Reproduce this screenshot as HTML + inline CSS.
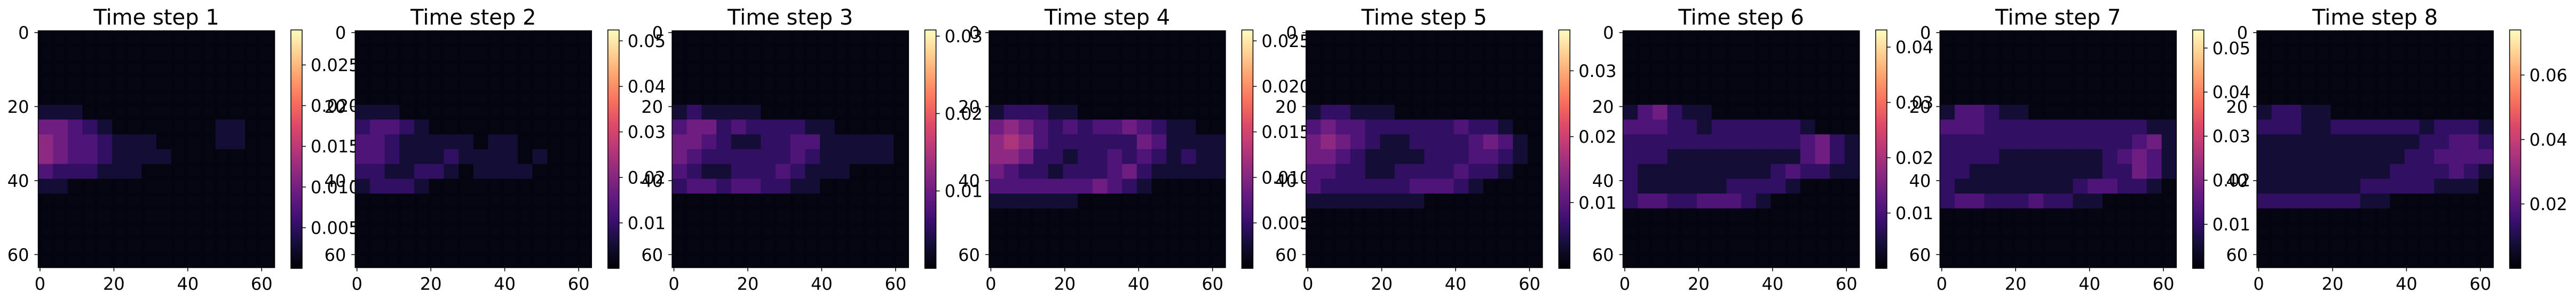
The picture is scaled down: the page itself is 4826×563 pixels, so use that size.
<!DOCTYPE html>
<html><head><meta charset="utf-8">
<style>
html,body{margin:0;padding:0;background:#fff;}
svg{display:block;}
text{font-family:"DejaVu Sans","Liberation Sans",sans-serif;fill:#000;}
</style></head>
<body>
<svg id="fig" width="4826" height="563" viewBox="0 0 4826 563" xmlns="http://www.w3.org/2000/svg"></svg>
<script>
// Panel titles
const titles = ["Time step 1","Time step 2","Time step 3","Time step 4","Time step 5","Time step 6","Time step 7","Time step 8"];
// Colour range maxima per panel
const vmax = [0.0293,0.0524,0.0308,0.0262,0.0362,0.0431,0.0541,0.074];
const vmin = [0,0,0,0,0,0,0,0];
// Colourbar ticks per panel
const cbTicks = [
  [0.005,0.010,0.015,0.020,0.025],
  [0.01,0.02,0.03,0.04,0.05],
  [0.01,0.02,0.03],
  [0.005,0.010,0.015,0.020,0.025],
  [0.01,0.02,0.03],
  [0.01,0.02,0.03,0.04],
  [0.01,0.02,0.03,0.04,0.05],
  [0.02,0.04,0.06]
];
const cbTickLabels = [
  ["0.005","0.010","0.015","0.020","0.025"],
  ["0.01","0.02","0.03","0.04","0.05"],
  ["0.01","0.02","0.03"],
  ["0.005","0.010","0.015","0.020","0.025"],
  ["0.01","0.02","0.03"],
  ["0.01","0.02","0.03","0.04"],
  ["0.01","0.02","0.03","0.04","0.05"],
  ["0.02","0.04","0.06"]
];
const axisTicks = [0,20,40,60];
const axisTickLabels = ["0","20","40","60"];
// Coarse 16x16 block intensities (units of 0.075*vmax), rows top->bottom
const Z = "0000000000000000";
const grid1 = [Z,Z,Z,Z,Z,"1110000000000000","4432100000001100","5433211100001100","5433211110000000","3222111000000000","1100000000000000",Z,Z,Z,Z,Z];
const grid2 = [Z,Z,Z,Z,Z,"1110000000000000","2332100000000000","3321111101100000","3321112111101000","2211221011110000","1222100000000000",Z,Z,Z,Z,Z];
const grid3 = [Z,Z,Z,Z,Z,"1211110000000000","3442322221100000","4432112233111110","4322222232111110","3211222321110000","2332332211000000",Z,Z,Z,Z,Z];
const grid4 = [Z,Z,Z,Z,Z,"1222110000000000","4543232334321100","5653222222431111","5542212232321211","4322122234211111","3333333432100000","1111110000000000",Z,Z,Z,Z];
const grid5 = [Z,Z,Z,Z,Z,"1221110000000000","3433222222322100","4543211222234310","4432111122233210","3322112222322100","3222222333210000","1111111100000000",Z,Z,Z,Z];
const grid6 = [Z,Z,Z,Z,Z,"1342110000000000","3332212222221000","2222222222223421","2221111111113421","2111111111232211","2111111222210000","2332233321000000",Z,Z,Z,Z];
const grid7 = [Z,Z,Z,Z,Z,"1332110000000000","3332222222222211","2222222222222341","2222111111123431","2211111111122431","2111111112332210","2332223221100000",Z,Z,Z,Z];
const grid8 = [Z,Z,Z,Z,Z,"1221100000000000","2221122222212221","1111111111122332","1111111111223333","1111111112222321","1111111222221110","2222222110000000",Z,Z,Z,Z];
const grids = [grid1,grid2,grid3,grid4,grid5,grid6,grid7,grid8];

const NS = "http://www.w3.org/2000/svg";
const svg = document.getElementById('fig');
const magma = ["#000004","#140e36","#3b0f70","#641a80","#8c2981","#b73779","#de4968","#f7705c","#fe9f6d","#fecf92","#fcfdbf"];
function hex(h){return [parseInt(h.substr(1,2),16),parseInt(h.substr(3,2),16),parseInt(h.substr(5,2),16)];}
function cmap(t){
  t=Math.max(0,Math.min(1,t));
  const p=t*10, i=Math.min(9,Math.floor(p)), f=p-i;
  const a=hex(magma[i]), b=hex(magma[i+1]);
  return "rgb("+a.map((v,k)=>Math.round(v+(b[k]-v)*f)).join(",")+")";
}
function el(tag, attrs, parent){
  const e=document.createElementNS(NS,tag);
  for(const k in attrs) e.setAttribute(k,attrs[k]);
  (parent||svg).appendChild(e); return e;
}
const defs = el('defs',{});
const grad = el('linearGradient',{id:'magma',x1:'0',y1:'1',x2:'0',y2:'0'},defs);
magma.forEach((c,i)=>el('stop',{offset:(i/10),'stop-color':c},grad));

const pitch=593.8, axL0=71.5, axT=57.5, axS=443, cbOff=473.5, cbW=21, cbT=56, cbB=502;
for(let p=0;p<8;p++){
  const L=axL0+pitch*p;
  const g=el('g',{});
  
  
  const xs=v=>L+(v+0.5)*axS/64;
  const ys=v=>axT+(v+0.5)*axS/64;
  const hm=el('g',{},g);
  
  
  const rows=grids[p], nr=rows.length, nc=rows[0].length;
  const cw=axS/nc, ch=axS/nr;
  for(let r=0;r<nr;r++)for(let c=0;c<nc;c++){
    const d=+rows[r][c];
    const val=(0.025+d*0.075)*vmax[p];
    const cell=el('rect',{x:L+c*cw,y:axT+r*ch,width:cw+0.6,height:ch+0.6,fill:cmap((val-vmin[p])/(vmax[p]-vmin[p]))},hm);
    
    
  }
  el('rect',{x:L,y:axT,width:axS,height:axS,fill:'none',stroke:'#000','stroke-width':1.5},g);
  const t=el('text',{x:L+axS/2,y:46,'text-anchor':'middle','font-size':40},g);
  t.textContent=titles[p];
  
  
  axisTicks.forEach((v,i)=>{
    const x=xs(v);
    el('line',{x1:x,y1:axT+axS,x2:x,y2:axT+axS+7,stroke:'#000','stroke-width':1.5},g);
    const tx=el('text',{x:x,y:542,'text-anchor':'middle','font-size':32},g);
    tx.textContent=axisTickLabels[i];
    
    
    const y=ys(v);
    el('line',{x1:L-7,y1:y,x2:L,y2:y,stroke:'#000','stroke-width':1.5},g);
    const ty=el('text',{x:L-17,y:y+11.5,'text-anchor':'end','font-size':32},g);
    ty.textContent=axisTickLabels[i];
    
    
  });
  const cx=L+cbOff;
  const cb=el('rect',{x:cx,y:cbT,width:cbW,height:cbB-cbT,fill:'url(#magma)',stroke:'#000','stroke-width':1.5},g);
  
  
  const cy=v=>cbB-(v-vmin[p])/(vmax[p]-vmin[p])*(cbB-cbT);
  cbTicks[p].forEach((v,i)=>{
    const y=cy(v);
    el('line',{x1:cx+cbW,y1:y,x2:cx+cbW+7,y2:y,stroke:'#000','stroke-width':1.5},g);
    const lt=el('text',{x:cx+cbW+16,y:y+11.5,'font-size':32},g);
    lt.textContent=cbTickLabels[p][i];
    
    
  });
}
</script>
</body></html>
